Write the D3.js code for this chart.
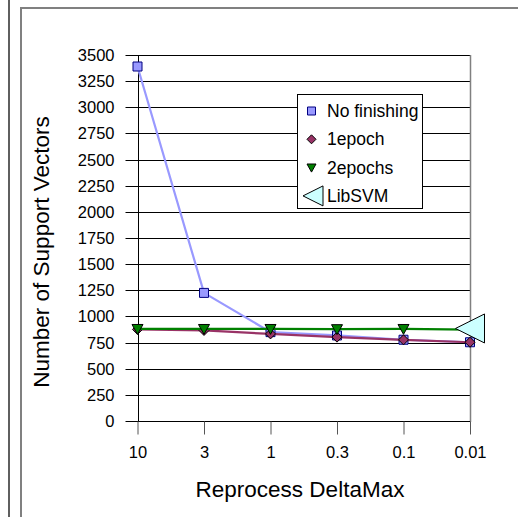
<!DOCTYPE html>
<html>
<head>
<meta charset="utf-8">
<script src="https://cdn.jsdelivr.net/npm/d3@7"></script>
<style>
  html, body { margin: 0; padding: 0; background: #fff; }
  svg { display: block; font-family: "Liberation Sans", Arial, Helvetica, sans-serif; }
</style>
</head>
<body>
<svg id="chart" width="518" height="517"></svg>
<script>
// Reprocess DeltaMax settings (x categories)
const categories = ["10", "3", "1", "0.3", "0.1", "0.01"];

// Number of support vectors per setting
const noFinishing = [3390, 1225, 850, 818, 777, 753];
const oneEpoch    = [876, 866, 833, 802, 776, 753];
const twoEpochs   = [881, 881, 881, 879, 881, 873];
// LibSVM reference point, shown at the last setting only
const libsvm      = [null, null, null, null, null, 885];

const yTicks = [0, 250, 500, 750, 1000, 1250, 1500, 1750, 2000, 2250, 2500, 2750, 3000, 3250, 3500];

const series = [
  { name: "No finishing", values: noFinishing, line: "#9999ff", fill: "#9999ff", stroke: "#000080", marker: "square" },
  { name: "1epoch",       values: oneEpoch,    line: "#993366", fill: "#993366", stroke: "#000000", marker: "diamond" },
  { name: "2epochs",      values: twoEpochs,   line: "#008000", fill: "#008000", stroke: "#000000", marker: "triDown" },
  { name: "LibSVM",       values: libsvm,      line: null,      fill: "#ccffff", stroke: "#000000", marker: "triLeft" }
];

const svg = d3.select("#chart");

// outer frames
svg.append("line").attr("x1", 9).attr("x2", 9).attr("y1", 0).attr("y2", 517)
  .attr("stroke", "#2a2a2a").attr("stroke-width", 1.5);
svg.append("path").attr("d", "M21,520 L21,8 L520,8")
  .attr("fill", "none").attr("stroke", "#808080").attr("stroke-width", 2);

const plot = { left: 137.5, right: 470, top: 55, bottom: 421 };

const x = d3.scalePoint().domain(categories).range([plot.left, plot.right]).padding(0);
const y = d3.scaleLinear().domain([0, 3500]).range([plot.bottom, plot.top]);

// horizontal gridlines
svg.append("g").selectAll("line").data(yTicks).join("line")
  .attr("x1", plot.left).attr("x2", plot.right)
  .attr("y1", d => Math.round(y(d)) + 0.5).attr("y2", d => Math.round(y(d)) + 0.5)
  .attr("stroke", "#000").attr("stroke-width", 1);

// right plot border
svg.append("line").attr("x1", plot.right + 0.5).attr("x2", plot.right + 0.5)
  .attr("y1", plot.top).attr("y2", plot.bottom + 1)
  .attr("stroke", "#808080").attr("stroke-width", 1.5);

// y axis
const yAxis = d3.axisLeft(y).tickValues(yTicks).tickSize(13).tickPadding(11).tickFormat(d3.format("d"));
const gy = svg.append("g").attr("transform", `translate(${Math.round(plot.left) + 0.5},0)`).call(yAxis);
gy.select(".domain").attr("stroke", "#000").attr("d", `M0,${plot.top}V${plot.bottom + 0.5}`);
gy.selectAll(".tick line").attr("stroke", "#000");
gy.selectAll(".tick text").attr("font-size", "16.5px").attr("fill", "#000")
  .attr("font-family", "Liberation Sans, Arial, sans-serif");
gy.selectAll(".tick").attr("transform", d => `translate(0,${Math.round(y(d)) + 0.5})`);

// x axis
const xAxis = d3.axisBottom(x).tickSize(13).tickPadding(12);
const gx = svg.append("g").attr("transform", `translate(0,${plot.bottom + 0.5})`).call(xAxis);
gx.select(".domain").attr("stroke", "#000").attr("d", `M${plot.left},0H${plot.right}`);
gx.selectAll(".tick line").attr("stroke", "#555");
gx.selectAll(".tick text").attr("font-size", "16.5px").attr("fill", "#000")
  .attr("font-family", "Liberation Sans, Arial, sans-serif");

// axis titles
svg.append("text").attr("x", 300).attr("y", 497).attr("text-anchor", "middle")
  .attr("font-size", "22.5px").attr("fill", "#000").text("Reprocess DeltaMax");
svg.append("text").attr("transform", "translate(49,252) rotate(-90)").attr("text-anchor", "middle")
  .attr("font-size", "22.5px").attr("fill", "#000").text("Number of Support Vectors");

// marker shapes
function markerPath(kind, s) {
  switch (kind) {
    case "square": return `M${-s},${-s}H${s}V${s}H${-s}Z`;
    case "diamond": return `M0,${-s}L${s},0L0,${s}L${-s},0Z`;
    case "triDown": return `M${-s},${-s * 0.8}H${s}L0,${s}Z`;
    case "triLeft": return `M${-s},0L${s},${-s}V${s}Z`;
  }
}
const markerSize = { square: 4.5, diamond: 5, triDown: 5.5, triLeft: 14.5 };

// lines
const line = d3.line().defined(d => d.v != null).x(d => x(d.c)).y(d => y(d.v));
series.forEach(s => {
  const pts = categories.map((c, i) => ({ c, v: s.values[i] }));
  if (s.line) {
    svg.append("path").datum(pts).attr("d", line)
      .attr("fill", "none").attr("stroke", s.line).attr("stroke-width", 2.2)
      .attr("stroke-linejoin", "round");
  }
  svg.append("g").selectAll("path").data(pts.filter(d => d.v != null)).join("path")
    .attr("transform", d => `translate(${x(d.c)},${y(d.v)})`)
    .attr("d", markerPath(s.marker, markerSize[s.marker]))
    .attr("fill", s.fill).attr("stroke", s.stroke).attr("stroke-width", 1);
});

// legend
const legend = svg.append("g");
legend.append("rect").attr("x", 297.5).attr("y", 94.5).attr("width", 125).attr("height", 114)
  .attr("fill", "#fff").attr("stroke", "#000").attr("stroke-width", 1);
const legendSize = { square: 4, diamond: 4.5, triDown: 4.5, triLeft: 10 };
series.forEach((s, i) => {
  const cy = 111 + i * 28.3;
  legend.append("path")
    .attr("transform", `translate(${s.marker === "triLeft" ? 313 : 311.5},${cy})`)
    .attr("d", markerPath(s.marker, legendSize[s.marker]))
    .attr("fill", s.fill).attr("stroke", s.stroke).attr("stroke-width", 1);
  legend.append("text").attr("x", 327).attr("y", cy + 6)
    .attr("font-size", "17.5px").attr("fill", "#000").text(s.name);
});
</script>
</body>
</html>
